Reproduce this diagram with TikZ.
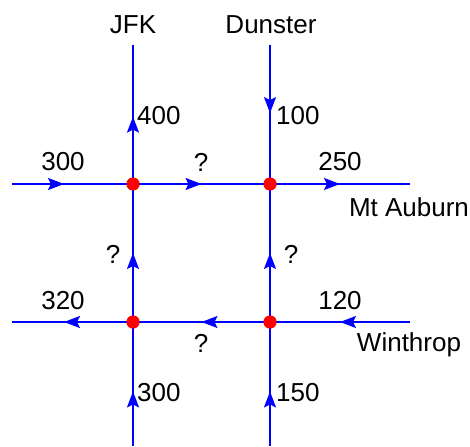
\documentclass[tikz,border=0pt]{standalone}
\usepackage{fontspec}
\setmainfont{Liberation Sans}
\usetikzlibrary{arrows.meta,decorations.markings}
\tikzset{
  street/.style={draw=blue, line width=2pt},
  flow/.style={
    postaction={
      decorate,
      decoration={
        markings,
        mark=at position #1 with {\arrow[blue]{Stealth[length=16pt,width=12pt,inset=3pt]}}
      }
    }
  },
  junction/.style={circle, fill=red, inner sep=0pt, minimum size=13pt},
  lbl/.style={font=\fontsize{26}{30}\selectfont, inner sep=1pt}
}

\begin{document}
\begin{tikzpicture}[x=1pt, y=-1pt]
  \useasboundingbox (0,0) rectangle (470,446);

  % Intersections
  \node[junction] (jfkmt) at (133,184) {};
  \node[junction] (dunmt) at (270,184) {};
  \node[junction] (jfkwin) at (133,322) {};
  \node[junction] (dunwin) at (270,322) {};

  % Street ends
  \coordinate (mtW) at (12,184);
  \coordinate (mtE) at (410,184);
  \coordinate (winW) at (12,322);
  \coordinate (winE) at (410,322);
  \coordinate (jfkN) at (133,45);
  \coordinate (jfkS) at (133,446);
  \coordinate (dunN) at (270,45);
  \coordinate (dunS) at (270,446);

  % Mt Auburn
  \draw[street, flow=0.43] (mtW) -- (jfkmt.center);
  \draw[street, flow=0.5] (jfkmt.center) -- (dunmt.center);
  \draw[street, flow=0.5] (dunmt.center) -- (mtE);

  % Winthrop
  \draw[street, flow=0.5] (winE) -- (dunwin.center);
  \draw[street, flow=0.5] (dunwin.center) -- (jfkwin.center);
  \draw[street, flow=0.57] (jfkwin.center) -- (winW);

  % JFK
  \draw[street, flow=0.44] (jfkS) -- (jfkwin.center);
  \draw[street, flow=0.5] (jfkwin.center) -- (jfkmt.center);
  \draw[street, flow=0.485] (jfkmt.center) -- (jfkN);

  % Dunster
  \draw[street, flow=0.44] (dunS) -- (dunwin.center);
  \draw[street, flow=0.5] (dunwin.center) -- (dunmt.center);
  \draw[street, flow=0.49] (dunN) -- (dunmt.center);

  % redraw the dots on top
  \foreach \j in {jfkmt,dunmt,jfkwin,dunwin}
    \fill[red] (\j) circle (6.5pt);

  % Street names
  \node[lbl] (jfkname) at (133,25) {JFK};
  \node[lbl] (dunname) at (271,25) {Dunster};
  \node[lbl] (mtname) at (409,207) {Mt Auburn};
  \node[lbl] (winname) at (409,345) {Winthrop};

  % Flows
  \node[lbl] (f300a) at (63,162) {300};
  \node[lbl] (fAB) at (201,162) {?};
  \node[lbl] (f250) at (340,162) {250};
  \node[lbl, anchor=west] (f400) at (136,116) {400};
  \node[lbl, anchor=west] (f100) at (275,116) {100};
  \node[lbl] (fCA) at (113,254) {?};
  \node[lbl] (fDB) at (291,254) {?};
  \node[lbl] (f320) at (63,301) {320};
  \node[lbl] (f120) at (340,301) {120};
  \node[lbl] (fDC) at (201,343) {?};
  \node[lbl, anchor=west] (f300b) at (136,393) {300};
  \node[lbl, anchor=west] (f150) at (275,393) {150};
\end{tikzpicture}
\end{document}
